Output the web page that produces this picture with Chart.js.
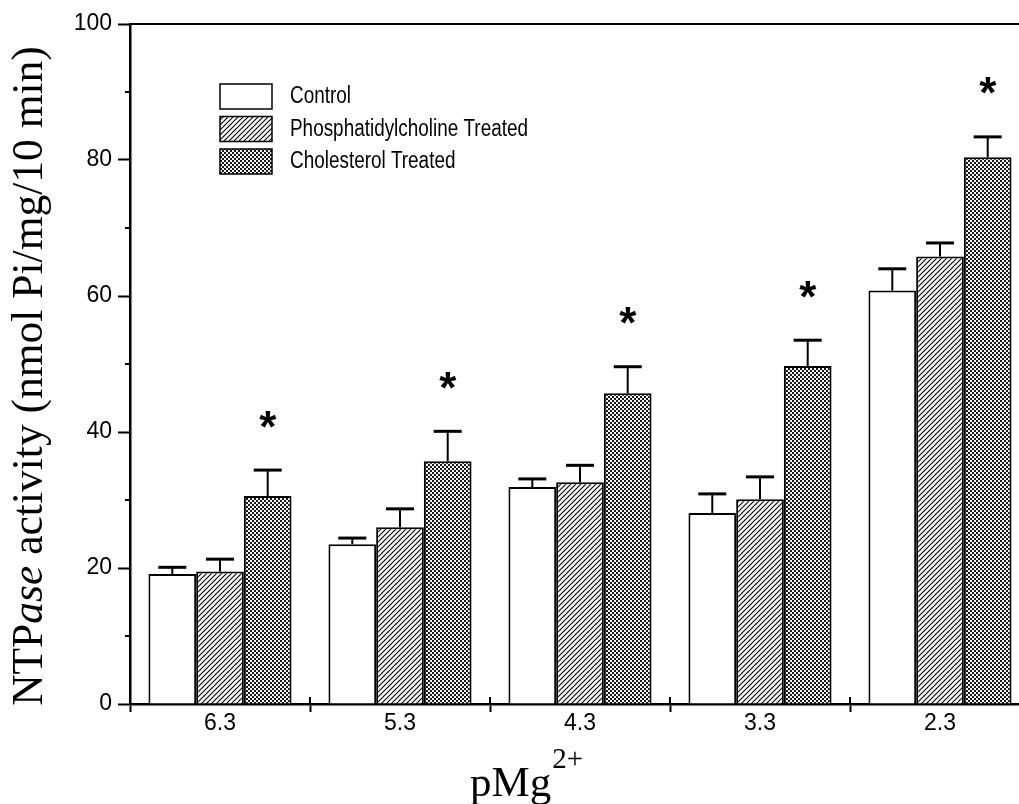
<!DOCTYPE html>
<html>
<head>
<meta charset="utf-8">
<script src="https://cdn.jsdelivr.net/npm/chart.js@4.4.1/dist/chart.umd.min.js"></script>
<style>
  html, body { margin: 0; padding: 0; background: #fff; overflow: hidden; }
  #wrap { position: relative; width: 1040px; height: 804px; }
</style>
</head>
<body>
<div id="wrap"><canvas id="c" width="1040" height="804"></canvas></div>
<script>
// ---- data ----
const categories = ['6.3', '5.3', '4.3', '3.3', '2.3'];
const seriesNames = ['Control', 'Phosphatidylcholine Treated', 'Cholesterol Treated'];
const controlValues = [19.1, 23.5, 31.9, 28.1, 60.8];
const controlErrors = [1.0, 0.9, 1.2, 2.8, 3.2];
const pcValues = [19.5, 26.0, 32.6, 30.1, 65.8];
const pcErrors = [1.8, 2.7, 2.5, 3.3, 2.0];
const cholValues = [30.6, 35.7, 45.7, 49.7, 80.4];
const cholErrors = [3.8, 4.4, 3.9, 3.8, 3.0];
const cholSignificance = ['*', '*', '*', '*', '*'];
const yTicks = [0, 20, 40, 60, 80, 100];

// ---- patterns ----
function hatchPattern() {
  const s = 5;
  const c = document.createElement('canvas');
  c.width = s; c.height = s;
  const g = c.getContext('2d');
  g.fillStyle = '#fff'; g.fillRect(0, 0, s, s);
  g.strokeStyle = '#000'; g.lineWidth = 1.1;
  g.beginPath();
  g.moveTo(-1, s + 1); g.lineTo(s + 1, -1);
  g.moveTo(-1, 1); g.lineTo(1, -1);
  g.moveTo(s - 1, s + 1); g.lineTo(s + 1, s - 1);
  g.stroke();
  return g.createPattern(c, 'repeat');
}
function dotPattern() {
  const s = 4;
  const c = document.createElement('canvas');
  c.width = s; c.height = s;
  const g = c.getContext('2d');
  g.fillStyle = '#f4f4f4'; g.fillRect(0, 0, s, s);
  g.fillStyle = '#1a1a1a';
  g.fillRect(0, 0, 2, 2); g.fillRect(2, 2, 2, 2);
  return g.createPattern(c, 'repeat');
}
const fills = ['#ffffff', hatchPattern(), dotPattern()];
const errorSets = [controlErrors, pcErrors, cholErrors];

// ---- plugins ----
const decor = {
  id: 'decor',
  afterDatasetsDraw(chart) {
    const ctx = chart.ctx;
    const ca = chart.chartArea;
    const x = chart.scales.x, y = chart.scales.y;
    ctx.save();
    // top frame line
    ctx.strokeStyle = '#000'; ctx.lineWidth = 2;
    ctx.beginPath(); ctx.moveTo(ca.left, ca.top); ctx.lineTo(ca.right, ca.top); ctx.stroke();
    // minor y ticks
    ctx.lineWidth = 2;
    for (let v = 10; v < 100; v += 20) {
      const py = y.getPixelForValue(v);
      ctx.beginPath(); ctx.moveTo(ca.left - 5, py); ctx.lineTo(ca.left, py); ctx.stroke();
    }
    // upper halves of x ticks (category boundaries)
    for (let i = 0; i < categories.length - 1; i++) {
      const px = (x.getPixelForValue(i) + x.getPixelForValue(i + 1)) / 2;
      ctx.beginPath(); ctx.moveTo(px, ca.bottom - 7); ctx.lineTo(px, ca.bottom); ctx.stroke();
    }
    // error bars
    chart.data.datasets.forEach((ds, di) => {
      const meta = chart.getDatasetMeta(di);
      meta.data.forEach((bar, i) => {
        const top = y.getPixelForValue(ds.data[i]);
        const cap = y.getPixelForValue(ds.data[i] + errorSets[di][i]);
        ctx.lineWidth = 2;
        ctx.beginPath(); ctx.moveTo(bar.x, top); ctx.lineTo(bar.x, cap); ctx.stroke();
        ctx.lineWidth = 3;
        ctx.beginPath(); ctx.moveTo(bar.x - 14, cap); ctx.lineTo(bar.x + 14, cap); ctx.stroke();
      });
    });
    // significance stars
    const cm = chart.getDatasetMeta(2);
    ctx.fillStyle = '#000';
    ctx.font = 'bold 44px "Liberation Sans", Arial, sans-serif';
    ctx.textAlign = 'center'; ctx.textBaseline = 'alphabetic';
    cm.data.forEach((bar, i) => {
      if (!cholSignificance[i]) return;
      const cap = y.getPixelForValue(cholValues[i] + cholErrors[i]);
      const m = ctx.measureText(cholSignificance[i]);
      const cy = cap - 51;
      ctx.fillText(cholSignificance[i], bar.x, cy + m.actualBoundingBoxAscent - (m.actualBoundingBoxAscent + m.actualBoundingBoxDescent) / 2);
    });
    // legend (condensed sans)
    ctx.textAlign = 'left'; ctx.textBaseline = 'middle';
    ctx.font = '23px "Liberation Sans Narrow", "Liberation Sans", Arial, sans-serif';
    const longest = Math.max(...chart.data.datasets.map(d => ctx.measureText(d.label).width));
    const sx = Math.min(1, 238 / longest);
    chart.data.datasets.forEach((ds, di) => {
      const bx = 220, by = 84 + di * 32.5;
      ctx.fillStyle = fills[di];
      ctx.fillRect(bx, by, 52, 25);
      ctx.lineWidth = 1.5; ctx.strokeStyle = '#000';
      ctx.strokeRect(bx, by, 52, 25);
      ctx.fillStyle = '#000';
      ctx.save();
      ctx.translate(290, by + 13);
      ctx.scale(sx, 1);
      ctx.fillText(ds.label, 0, 0);
      ctx.restore();
    });
    // y title with italic part
    const fs = 43.5;
    const parts = [
      { t: 'NTP', f: fs + 'px "Liberation Serif", "Times New Roman", serif' },
      { t: 'ase', f: 'italic ' + fs + 'px "Liberation Serif", "Times New Roman", serif' },
      { t: ' activity (nmol Pi/mg/10 min)', f: fs + 'px "Liberation Serif", "Times New Roman", serif' }
    ];
    let total = 0;
    parts.forEach(p => { ctx.font = p.f; p.w = ctx.measureText(p.t).width; total += p.w; });
    ctx.save();
    ctx.translate(42, 376);
    ctx.rotate(-Math.PI / 2);
    ctx.textBaseline = 'alphabetic';
    let cx = -total / 2;
    parts.forEach(p => { ctx.font = p.f; ctx.fillText(p.t, cx, 0); cx += p.w; });
    ctx.restore();
    // x title
    ctx.textBaseline = 'alphabetic';
    ctx.font = '43px "Liberation Serif", "Times New Roman", serif';
    ctx.fillText('pMg', 470, 796);
    const w = ctx.measureText('pMg').width;
    ctx.font = '29px "Liberation Serif", "Times New Roman", serif';
    ctx.fillText('2+', 470 + w + 1, 768);
    ctx.restore();
  }
};

new Chart(document.getElementById('c'), {
  type: 'bar',
  data: {
    labels: categories,
    datasets: [
      { label: seriesNames[0], data: controlValues },
      { label: seriesNames[1], data: pcValues },
      { label: seriesNames[2], data: cholValues }
    ].map((d, i) => Object.assign(d, {
      backgroundColor: fills[i],
      borderColor: '#000',
      borderWidth: 2,
      borderSkipped: 'bottom',
      categoryPercentage: 0.795,
      barPercentage: 1.0
    }))
  },
  options: {
    responsive: false,
    animation: false,
    devicePixelRatio: 1,
    layout: { padding: { top: 24, right: 10, left: 0, bottom: 0 } },
    plugins: { legend: { display: false }, tooltip: { enabled: false } },
    scales: {
      x: {
        grid: { offset: true, drawOnChartArea: false, tickLength: 8, tickColor: '#000', tickWidth: 2 },
        border: { display: true, color: '#000', width: 2.5 },
        ticks: { color: '#000', padding: -2, font: { family: '"Liberation Sans", Arial, sans-serif', size: 23 } },
        afterFit(s) { s.height = 100; }
      },
      y: {
        min: 0, max: 100,
        afterBuildTicks(s) { s.ticks = []; for (let v = 0; v <= 100; v += 10) s.ticks.push({ value: v }); },
        grid: {
          drawOnChartArea: false, tickLength: 12, tickWidth: 2,
          tickColor: c => (yTicks.includes(c.tick.value) ? '#000' : 'rgba(0,0,0,0)')
        },
        border: { display: true, color: '#000', width: 2.5 },
        ticks: {
          color: '#000', padding: 6,
          font: { family: '"Liberation Sans", Arial, sans-serif', size: 23 },
          callback: v => (yTicks.includes(v) ? String(v) : '')
        },
        afterFit(s) { s.width = 130; }
      }
    }
  },
  plugins: [decor]
});
</script>
</body>
</html>
